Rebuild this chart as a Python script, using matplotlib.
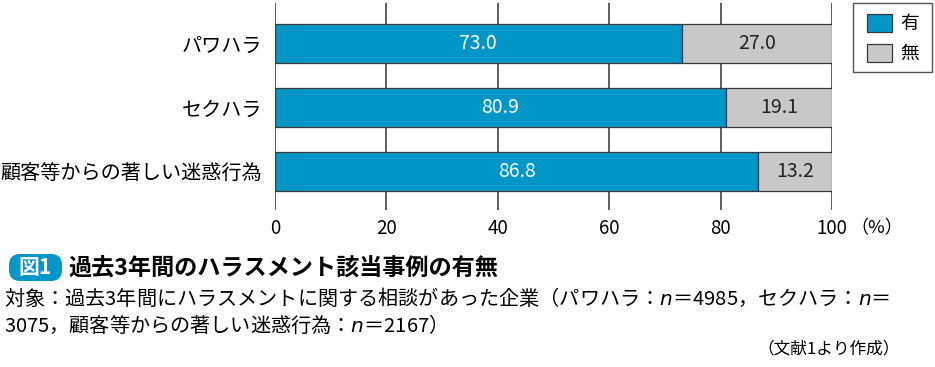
import matplotlib
matplotlib.use("Agg")
import matplotlib.pyplot as plt
from matplotlib.patches import FancyBboxPatch, Rectangle

plt.rcParams['font.family'] = ['Noto Sans CJK JP', 'DejaVu Sans']

categories = ["パワハラ", "セクハラ", "顧客等からの著しい迷惑行為"]
yes_vals = [73.0, 80.9, 86.8]
no_vals = [27.0, 19.1, 13.2]
series_names = ["有", "無"]
xticks = [0, 20, 40, 60, 80, 100]

BLUE = "#0096c8"
GRAY = "#c8c8c8"
EDGE = "#3a3a3a"

fig = plt.figure(figsize=(9.35, 3.67), dpi=100)
W, H = 935, 367

ax = fig.add_axes([275 / W, 1 - 210 / H, (832 - 275) / W, (210 - 3) / H])

y = list(range(len(categories)))
ax.barh(y, yes_vals, height=0.61, color=BLUE, edgecolor=EDGE, linewidth=0.9, zorder=3)
ax.barh(y, no_vals, left=yes_vals, height=0.61, color=GRAY, edgecolor=EDGE, linewidth=0.9, zorder=3)

for i in y:
    ax.text(yes_vals[i] / 2, i, f"{yes_vals[i]:.1f}", ha="center", va="center",
            color="white", fontsize=14, zorder=4)
    ax.text(yes_vals[i] + no_vals[i] / 2, i, f"{no_vals[i]:.1f}", ha="center", va="center",
            color="#222222", fontsize=14, zorder=4)

ax.set_xlim(0, 100)
ax.set_ylim(2.60, -0.633)
ax.set_xticks(xticks)
ax.set_xticklabels([str(t) for t in xticks], fontsize=13.5)
ax.set_yticks(y)
ax.set_yticklabels(categories, fontsize=14.5)
ax.tick_params(axis="y", length=0, pad=9)
ax.tick_params(axis="x", length=0, pad=6)
for s in ax.spines.values():
    s.set_visible(False)
ax.grid(axis="x", color="#333333", linewidth=1.1, zorder=0)
ax.set_axisbelow(True)

# overlay axes in pixel coordinates for annotations
ov = fig.add_axes([0, 0, 1, 1], zorder=-1)
ov.set_xlim(0, W)
ov.set_ylim(H, 0)
ov.axis("off")

# (%) label
ov.text(850, 228, "（%）", ha="left", va="center", fontsize=13)

# legend (manual)
ov.add_patch(Rectangle((853, 3), 79, 69, facecolor="white", edgecolor="#555555", linewidth=1.0))
legend_colors = [BLUE, GRAY]
for k, (name, col) in enumerate(zip(series_names, legend_colors)):
    top = 14 + 30 * k
    ov.add_patch(Rectangle((867, top), 25, 18, facecolor=col, edgecolor=EDGE, linewidth=0.9))
    ov.text(900, top + 9, name, ha="left", va="center", fontsize=13.5)

# title badge
ov.add_patch(FancyBboxPatch((9, 254), 53, 27, boxstyle="round,pad=0,rounding_size=11",
                            facecolor=BLUE, edgecolor="none"))
ov.text(35, 268, "図1", ha="center", va="center", color="white",
        fontsize=15, fontweight="bold")
ov.text(68, 268, "過去3年間のハラスメント該当事例の有無", ha="left", va="center",
        fontsize=16.7, fontweight="bold")

ov.text(4, 298,
        "対象：過去3年間にハラスメントに関する相談があった企業（パワハラ：$n$＝4985，セクハラ：$n$＝",
        ha="left", va="center", fontsize=14.5)
ov.text(4, 325,
        "3075，顧客等からの著しい迷惑行為：$n$＝2167）",
        ha="left", va="center", fontsize=14.5)
ov.text(900, 349, "（文献1より作成）", ha="right", va="center", fontsize=12)

fig.savefig("out.png", dpi=100)
